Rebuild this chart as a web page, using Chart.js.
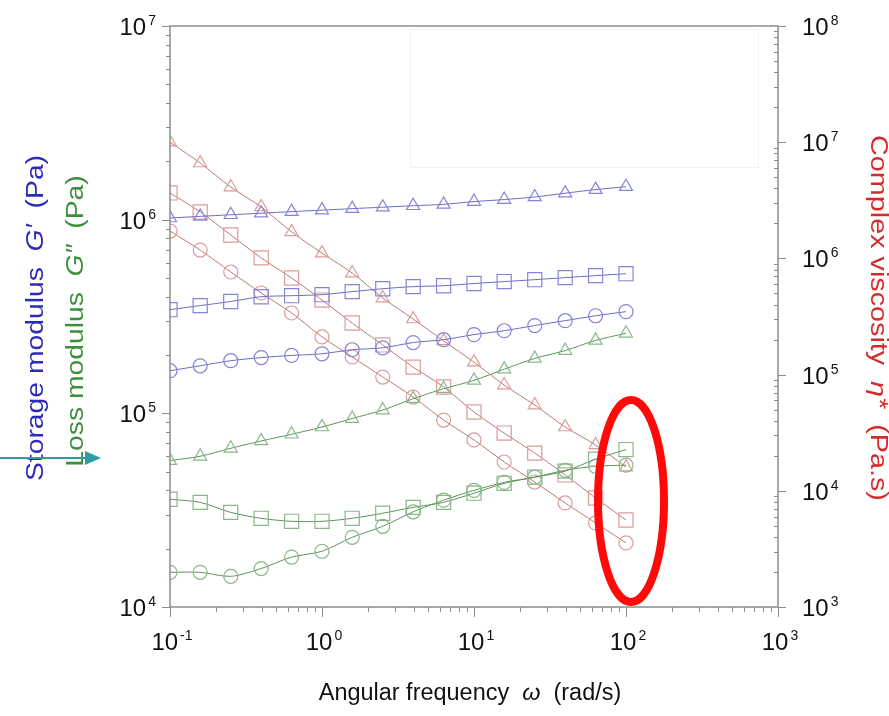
<!DOCTYPE html>
<html>
<head>
<meta charset="utf-8">
<script src="https://cdn.jsdelivr.net/npm/chart.js@4.4.1/dist/chart.umd.min.js"></script>
<style>
  html, body { margin: 0; padding: 0; background: #ffffff; }
  canvas { display: block; }
</style>
</head>
<body>
<canvas id="rheologyChart" width="889" height="716"></canvas>
<script>
// Angular frequency sweep (rad/s)
const omega = [0.1, 0.158, 0.251, 0.398, 0.631, 1, 1.58, 2.51, 3.98, 6.31, 10, 15.8, 25.1, 39.8, 63.1, 100];

// Storage modulus G' (Pa)
const storageTri = [1.02e6, 1.04e6, 1.06e6, 1.08e6, 1.10e6, 1.12e6, 1.14e6, 1.16e6, 1.18e6, 1.20e6, 1.24e6, 1.27e6, 1.31e6, 1.37e6, 1.43e6, 1.48e6];
const storageSq = [3.43e5, 3.6e5, 3.78e5, 4.0e5, 4.05e5, 4.1e5, 4.25e5, 4.4e5, 4.51e5, 4.56e5, 4.68e5, 4.79e5, 4.90e5, 5.02e5, 5.14e5, 5.26e5];
const storageCirc = [1.66e5, 1.76e5, 1.87e5, 1.94e5, 1.99e5, 2.03e5, 2.13e5, 2.18e5, 2.32e5, 2.40e5, 2.55e5, 2.67e5, 2.84e5, 3.01e5, 3.19e5, 3.35e5];

// Loss modulus G'' (Pa)
const lossTri = [5.7e4, 6.0e4, 6.6e4, 7.2e4, 7.8e4, 8.5e4, 9.4e4, 1.04e5, 1.19e5, 1.34e5, 1.48e5, 1.69e5, 1.92e5, 2.11e5, 2.38e5, 2.59e5];
const lossSq = [3.6e4, 3.47e4, 3.08e4, 2.87e4, 2.77e4, 2.77e4, 2.87e4, 3.05e4, 3.27e4, 3.47e4, 3.87e4, 4.35e4, 4.68e4, 5.03e4, 5.8e4, 6.5e4];
const lossCirc = [1.51e4, 1.51e4, 1.44e4, 1.58e4, 1.81e4, 1.94e4, 2.29e4, 2.61e4, 3.1e4, 3.56e4, 4.0e4, 4.4e4, 4.68e4, 5.08e4, 5.33e4, 5.40e4];

// Complex viscosity eta* (Pa.s)
const etaTri = [1.0e7, 6.62e6, 4.11e6, 2.77e6, 1.69e6, 1.11e6, 7.48e5, 4.56e5, 3.01e5, 1.95e5, 1.28e5, 8.13e4, 5.47e4, 3.54e4, 2.48e4, 1.60e4];
const etaSq = [3.66e6, 2.51e6, 1.59e6, 1.01e6, 6.78e5, 4.38e5, 2.78e5, 1.80e5, 1.16e5, 7.82e4, 4.77e4, 3.14e4, 2.11e4, 1.37e4, 8.67e3, 5.61e3];
const etaCirc = [1.72e6, 1.18e6, 7.64e5, 5.04e5, 3.39e5, 2.11e5, 1.42e5, 9.53e4, 6.41e4, 4.06e4, 2.74e4, 1.77e4, 1.19e4, 7.86e3, 5.29e3, 3.56e3];

// Axis decades and their exponent labels
const xDecades = [0.1, 1, 10, 100, 1000];
const xExponents = ['-1', '0', '1', '2', '3'];
const leftDecades = [1e4, 1e5, 1e6, 1e7];
const leftExponents = ['4', '5', '6', '7'];
const rightDecades = [1e3, 1e4, 1e5, 1e6, 1e7, 1e8];
const rightExponents = ['3', '4', '5', '6', '7', '8'];
const minorSteps = [2, 3, 4, 5, 6, 7, 8, 9];

const FONT = '"Liberation Sans", Arial, sans-serif';
const AXIS_COLOR = '#8c8c8c';

const BLUE = { line: '#6b6bc6', mark: '#8585d8' };
const GREEN = { line: '#5b955b', mark: '#8ab68a' };
const RED = { line: '#b97a72', mark: '#db9c9a' };

function series(values, color, style, radius, axis) {
    return {
        data: omega.map((w, i) => ({ x: w, y: values[i] })),
        yAxisID: axis,
        borderColor: color.line,
        borderWidth: 1,
        pointStyle: style,
        pointRadius: radius,
        pointBorderColor: color.mark,
        pointBorderWidth: 1.2,
        pointBackgroundColor: 'rgba(0,0,0,0)',
        tension: 0.3,
        fill: false
    };
}

// Draw "10" followed by a raised exponent; align is 'left' | 'right' | 'center'
function drawPower(ctx, exp, x, y, align) {
    ctx.font = '24px ' + FONT;
    const baseW = ctx.measureText('10').width;
    ctx.font = '14px ' + FONT;
    const expW = ctx.measureText(exp).width;
    const total = baseW + 2 + expW;
    let left = x;
    if (align === 'right') left = x - total;
    if (align === 'center') left = x - total / 2;
    ctx.fillStyle = '#111111';
    ctx.textAlign = 'left';
    ctx.textBaseline = 'alphabetic';
    ctx.font = '24px ' + FONT;
    ctx.fillText('10', left, y + 9);
    ctx.font = '14px ' + FONT;
    ctx.fillText(exp, left + baseW + 2, y - 1);
}

// Draw a run of text pieces (some italic) centred on (cx, cy), rotated by angle,
// optionally stretched along the reading direction
function drawRich(ctx, parts, cx, cy, angle, size, color, stretch) {
    ctx.save();
    ctx.translate(cx, cy);
    ctx.rotate(angle);
    ctx.scale(stretch || 1, 1);
    ctx.fillStyle = color;
    ctx.textBaseline = 'middle';
    ctx.textAlign = 'left';
    let total = 0;
    parts.forEach(p => {
        ctx.font = (p.italic ? 'italic ' : '') + size + 'px ' + FONT;
        total += ctx.measureText(p.text).width;
    });
    let x = -total / 2;
    parts.forEach(p => {
        ctx.font = (p.italic ? 'italic ' : '') + size + 'px ' + FONT;
        ctx.fillText(p.text, x, 0);
        x += ctx.measureText(p.text).width;
    });
    ctx.restore();
}

const framePlugin = {
    id: 'frame',
    beforeDatasetsDraw(chart) {
        const ctx = chart.ctx;
        const area = chart.chartArea;
        // faint empty box near the top of the plot
        ctx.save();
        ctx.strokeStyle = '#f2f2f2';
        ctx.lineWidth = 1;
        ctx.strokeRect(area.left + 240.5, area.top + 3.5, 348, 138);
        ctx.restore();
    },
    afterDraw(chart) {
        const ctx = chart.ctx;
        const area = chart.chartArea;
        const xs = chart.scales.x;
        const yl = chart.scales.y;
        const yr = chart.scales.y2;

        ctx.save();
        // frame
        ctx.strokeStyle = AXIS_COLOR;
        ctx.lineWidth = 1.5;
        ctx.beginPath();
        ctx.moveTo(area.left, area.top);
        ctx.lineTo(area.right, area.top);
        ctx.lineTo(area.right, area.bottom);
        ctx.lineTo(area.left, area.bottom);
        ctx.closePath();
        ctx.stroke();

        ctx.lineWidth = 1;
        ctx.beginPath();
        // x axis ticks point down
        xDecades.forEach((d, i) => {
            const px = Math.round(xs.getPixelForValue(d)) + 0.5;
            ctx.moveTo(px, area.bottom);
            ctx.lineTo(px, area.bottom + 10);
            if (i < xDecades.length - 1) {
                minorSteps.forEach(m => {
                    const mx = Math.round(xs.getPixelForValue(d * m)) + 0.5;
                    ctx.moveTo(mx, area.bottom);
                    ctx.lineTo(mx, area.bottom + 5);
                });
            }
        });
        // left axis ticks point outward
        leftDecades.forEach((d, i) => {
            const py = Math.round(yl.getPixelForValue(d)) + 0.5;
            ctx.moveTo(area.left, py);
            ctx.lineTo(area.left - 8, py);
            if (i < leftDecades.length - 1) {
                minorSteps.forEach(m => {
                    const my = Math.round(yl.getPixelForValue(d * m)) + 0.5;
                    ctx.moveTo(area.left, my);
                    ctx.lineTo(area.left - 4, my);
                });
            }
        });
        // right axis: major ticks outward, minor ticks inward
        rightDecades.forEach((d, i) => {
            const py = Math.round(yr.getPixelForValue(d)) + 0.5;
            ctx.moveTo(area.right, py);
            ctx.lineTo(area.right + 8, py);
            if (i < rightDecades.length - 1) {
                minorSteps.forEach(m => {
                    const my = Math.round(yr.getPixelForValue(d * m)) + 0.5;
                    ctx.moveTo(area.right, my);
                    ctx.lineTo(area.right - 4, my);
                });
            }
        });
        ctx.stroke();

        // tick labels
        xDecades.forEach((d, i) => drawPower(ctx, xExponents[i], xs.getPixelForValue(d) + 2, 641, 'center'));
        leftDecades.forEach((d, i) => drawPower(ctx, leftExponents[i], area.left - 14, yl.getPixelForValue(d), 'right'));
        rightDecades.forEach((d, i) => drawPower(ctx, rightExponents[i], area.right + 24, yr.getPixelForValue(d), 'left'));

        // axis titles
        drawRich(ctx, [{ text: 'Angular frequency  ' }, { text: 'ω', italic: true }, { text: '  (rad/s)' }],
            470, 694, 0, 23, '#111111', 1.02);
        drawRich(ctx, [{ text: 'Storage modulus  ' }, { text: 'G′', italic: true }, { text: '  (Pa)' }],
            37, 318, -Math.PI / 2, 23, '#2b2bb8', 1.23);
        drawRich(ctx, [{ text: 'Loss modulus  ' }, { text: 'G″', italic: true }, { text: '  (Pa)' }],
            77, 321, -Math.PI / 2, 23, '#3d8f3d', 1.23);
        drawRich(ctx, [{ text: 'Complex viscosity  ' }, { text: 'η*', italic: true }, { text: '  (Pa.s)' }],
            877, 318, Math.PI / 2, 23, '#d42a2a', 1.25);

        // red ellipse around the highest-frequency points
        const ex = xs.getPixelForValue(100) + 5;
        ctx.strokeStyle = '#ff0a0a';
        ctx.lineWidth = 8;
        ctx.beginPath();
        ctx.ellipse(ex, 501, 33, 101, 0, 0, Math.PI * 2);
        ctx.stroke();

        // teal arrow pointing at the loss modulus title
        ctx.strokeStyle = '#2e9ca2';
        ctx.fillStyle = '#2e9ca2';
        ctx.lineWidth = 2;
        ctx.beginPath();
        ctx.moveTo(0, 458);
        ctx.lineTo(88, 458);
        ctx.stroke();
        ctx.beginPath();
        ctx.moveTo(101, 458);
        ctx.lineTo(85, 451);
        ctx.lineTo(85, 465);
        ctx.closePath();
        ctx.fill();
        ctx.restore();
    }
};

const hiddenAxis = {
    type: 'logarithmic',
    grid: { display: false },
    border: { display: false },
    ticks: { display: false }
};

const ctx = document.getElementById('rheologyChart').getContext('2d');
const rheologyChart = new Chart(ctx, {
    type: 'line',
    data: {
        datasets: [
            series(storageTri, BLUE, 'triangle', 7.5, 'y'),
            series(storageSq, BLUE, 'rect', 10, 'y'),
            series(storageCirc, BLUE, 'circle', 7, 'y'),
            series(lossTri, GREEN, 'triangle', 7.5, 'y'),
            series(lossSq, GREEN, 'rect', 10, 'y'),
            series(lossCirc, GREEN, 'circle', 7, 'y'),
            series(etaTri, RED, 'triangle', 7.5, 'y2'),
            series(etaSq, RED, 'rect', 10, 'y2'),
            series(etaCirc, RED, 'circle', 7, 'y2')
        ]
    },
    options: {
        responsive: false,
        animation: false,
        devicePixelRatio: 1,
        layout: { padding: { left: 170, right: 111, top: 26, bottom: 109 } },
        plugins: { legend: { display: false }, tooltip: { enabled: false } },
        scales: {
            x: Object.assign({}, hiddenAxis, { min: 0.1, max: 1000, afterFit: s => { s.height = 0; } }),
            y: Object.assign({}, hiddenAxis, { position: 'left', min: 1e4, max: 1e7, afterFit: s => { s.width = 0; } }),
            y2: Object.assign({}, hiddenAxis, { position: 'right', min: 1e3, max: 1e8, afterFit: s => { s.width = 0; } })
        }
    },
    plugins: [framePlugin]
});
</script>
</body>
</html>
